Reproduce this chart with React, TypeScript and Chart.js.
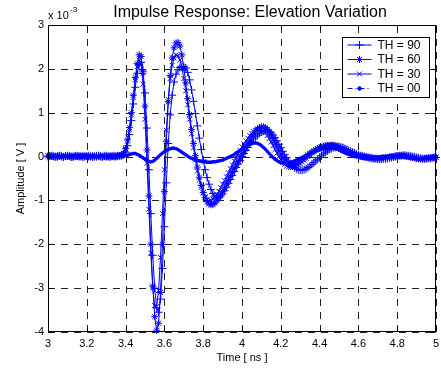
import React, { useEffect, useRef } from 'react';
import { Chart, registerables } from 'chart.js';

Chart.register(...registerables);

// ---- data (amplitude in units of 1e-3 V), sampled every 0.01 ns from 3.00 to 5.00 ns ----
const T_START = 3.0;
const T_STEP = 0.01;

const TH90 = [
  0.00, 0.01, 0.02, 0.01, -0.01, 0.00, 0.02, 0.01, -0.01, 0.01,
  0.02, 0.01, 0.00, -0.01, 0.01, 0.02, 0.01, 0.00, -0.02, 0.00,
  0.01, 0.02, 0.00, -0.01, 0.00, 0.01, 0.02, 0.00, -0.01, 0.01,
  0.02, 0.00, -0.01, 0.01, 0.02, 0.00, 0.01, 0.01, 0.02, 0.04,
  0.10, 0.25, 0.50, 0.82, 1.20, 1.58, 1.90, 2.10, 2.15, 1.95,
  1.45, 0.65, -0.30, -1.30, -2.25, -3.00, -3.45, -3.55, -3.25, -2.55,
  -1.60, -0.60, 0.30, 0.95, 1.40, 1.70, 1.88, 1.98, 2.03, 2.05,
  2.05, 2.02, 1.92, 1.75, 1.52, 1.26, 0.98, 0.70, 0.42, 0.16,
  -0.08, -0.30, -0.48, -0.63, -0.75, -0.84, -0.90, -0.93, -0.93, -0.90,
  -0.85, -0.78, -0.70, -0.61, -0.52, -0.43, -0.34, -0.25, -0.17, -0.09,
  0.00, 0.07, 0.14, 0.21, 0.28, 0.34, 0.40, 0.45, 0.49, 0.53,
  0.56, 0.58, 0.59, 0.59, 0.57, 0.54, 0.49, 0.43, 0.36, 0.28,
  0.20, 0.12, 0.04, -0.03, -0.10, -0.16, -0.21, -0.25, -0.28, -0.30,
  -0.31, -0.31, -0.30, -0.28, -0.25, -0.22, -0.18, -0.14, -0.10, -0.06,
  -0.02, 0.02, 0.06, 0.10, 0.13, 0.16, 0.18, 0.20, 0.21, 0.22,
  0.22, 0.21, 0.20, 0.18, 0.16, 0.14, 0.12, 0.10, 0.08, 0.06,
  0.04, 0.02, 0.01, 0.00, -0.01, -0.02, -0.03, -0.04, -0.05, -0.05,
  -0.06, -0.06, -0.06, -0.05, -0.05, -0.04, -0.03, -0.02, -0.01, 0.00,
  0.01, 0.02, 0.02, 0.03, 0.03, 0.02, 0.02, 0.01, 0.00, -0.01,
  -0.02, -0.03, -0.04, -0.05, -0.05, -0.05, -0.04, -0.04, -0.03, -0.02,
  -0.02,
];

const TH60 = [
  0.01, 0.02, 0.00, -0.01, 0.01, 0.02, 0.01, -0.01, 0.00, 0.02,
  0.01, 0.00, -0.02, 0.01, 0.02, 0.00, -0.01, 0.01, 0.02, 0.01,
  0.00, -0.01, 0.01, 0.02, 0.01, -0.01, 0.00, 0.02, 0.01, 0.00,
  -0.01, 0.01, 0.02, 0.00, -0.01, 0.01, 0.03, 0.02, 0.04, 0.08,
  0.18, 0.38, 0.66, 1.00, 1.40, 1.80, 2.12, 2.32, 2.28, 1.90,
  1.15, 0.15, -0.90, -2.00, -2.95, -3.65, -3.96, -3.80, -3.10, -2.00,
  -0.80, 0.35, 1.25, 1.85, 2.25, 2.48, 2.59, 2.60, 2.52, 2.32,
  2.02, 1.68, 1.32, 0.96, 0.62, 0.30, 0.02, -0.24, -0.47, -0.66,
  -0.82, -0.94, -1.03, -1.08, -1.10, -1.09, -1.06, -1.01, -0.95, -0.88,
  -0.80, -0.72, -0.63, -0.54, -0.45, -0.36, -0.27, -0.19, -0.11, -0.03,
  0.05, 0.13, 0.21, 0.29, 0.37, 0.45, 0.52, 0.58, 0.63, 0.66,
  0.68, 0.68, 0.66, 0.62, 0.56, 0.49, 0.41, 0.32, 0.23, 0.14,
  0.06, -0.01, -0.07, -0.12, -0.16, -0.18, -0.19, -0.19, -0.17, -0.14,
  -0.11, -0.07, -0.04, 0.00, 0.04, 0.07, 0.10, 0.13, 0.16, 0.18,
  0.20, 0.21, 0.23, 0.24, 0.25, 0.25, 0.25, 0.24, 0.23, 0.21,
  0.19, 0.17, 0.15, 0.13, 0.11, 0.09, 0.07, 0.06, 0.04, 0.03,
  0.02, 0.01, 0.00, -0.01, -0.02, -0.02, -0.03, -0.03, -0.04, -0.04,
  -0.04, -0.04, -0.03, -0.03, -0.02, -0.02, -0.01, -0.01, 0.00, 0.01,
  0.01, 0.02, 0.02, 0.02, 0.01, 0.01, 0.00, -0.01, -0.02, -0.03,
  -0.04, -0.05, -0.05, -0.05, -0.04, -0.04, -0.03, -0.03, -0.02, -0.02,
  -0.02,
];

const TH30 = [
  0.02, 0.00, -0.01, 0.01, 0.02, 0.01, 0.00, -0.01, 0.01, 0.02,
  0.00, -0.01, 0.01, 0.02, 0.00, -0.01, 0.01, 0.02, 0.01, 0.00,
  -0.01, 0.01, 0.02, 0.01, 0.00, -0.01, 0.01, 0.02, 0.00, -0.01,
  0.01, 0.02, 0.00, -0.01, 0.01, 0.02, 0.02, 0.01, 0.03, 0.07,
  0.16, 0.35, 0.62, 0.95, 1.35, 1.75, 2.05, 2.20, 2.10, 1.65,
  0.85, -0.15, -1.20, -2.20, -3.00, -3.40, -3.42, -3.05, -2.30, -1.30,
  -0.30, 0.60, 1.30, 1.78, 2.08, 2.25, 2.32, 2.30, 2.20, 2.02,
  1.78, 1.50, 1.18, 0.85, 0.52, 0.20, -0.08, -0.33, -0.54, -0.70,
  -0.83, -0.92, -0.98, -1.01, -1.00, -0.97, -0.92, -0.86, -0.79, -0.71,
  -0.63, -0.55, -0.46, -0.37, -0.28, -0.19, -0.10, -0.02, 0.06, 0.14,
  0.22, 0.29, 0.36, 0.42, 0.48, 0.53, 0.57, 0.60, 0.62, 0.62,
  0.61, 0.58, 0.54, 0.48, 0.41, 0.33, 0.25, 0.16, 0.08, 0.00,
  -0.07, -0.13, -0.18, -0.22, -0.24, -0.25, -0.25, -0.24, -0.22, -0.19,
  -0.16, -0.12, -0.08, -0.04, 0.00, 0.04, 0.08, 0.12, 0.15, 0.18,
  0.20, 0.22, 0.24, 0.26, 0.27, 0.28, 0.28, 0.28, 0.27, 0.26,
  0.24, 0.22, 0.20, 0.18, 0.15, 0.13, 0.11, 0.09, 0.07, 0.05,
  0.04, 0.03, 0.02, 0.01, 0.00, -0.01, -0.02, -0.02, -0.03, -0.03,
  -0.03, -0.03, -0.02, -0.02, -0.01, -0.01, 0.00, 0.00, 0.01, 0.01,
  0.02, 0.02, 0.02, 0.01, 0.01, 0.00, -0.01, -0.02, -0.03, -0.04,
  -0.04, -0.05, -0.05, -0.05, -0.04, -0.04, -0.03, -0.03, -0.02, -0.02,
  -0.01,
];

const TH00 = [
  0.01, -0.01, 0.00, 0.02, 0.01, -0.01, 0.00, 0.01, 0.02, 0.00,
  -0.01, 0.01, 0.02, 0.00, -0.01, 0.00, 0.02, 0.01, -0.01, 0.01,
  0.02, 0.00, -0.01, 0.01, 0.02, 0.01, -0.01, 0.00, 0.02, 0.01,
  0.00, -0.01, 0.01, 0.02, 0.00, -0.01, 0.01, 0.02, 0.01, 0.01,
  0.02, 0.03, 0.05, 0.06, 0.07, 0.07, 0.05, 0.03, 0.00, -0.03,
  -0.06, -0.09, -0.11, -0.12, -0.11, -0.08, -0.04, 0.00, 0.04, 0.08,
  0.11, 0.14, 0.16, 0.18, 0.19, 0.19, 0.18, 0.16, 0.13, 0.10,
  0.07, 0.04, 0.01, -0.02, -0.04, -0.06, -0.08, -0.09, -0.10, -0.11,
  -0.12, -0.12, -0.13, -0.13, -0.13, -0.12, -0.12, -0.11, -0.10, -0.09,
  -0.08, -0.06, -0.04, -0.02, 0.00, 0.02, 0.05, 0.08, 0.11, 0.14,
  0.17, 0.20, 0.23, 0.26, 0.28, 0.30, 0.31, 0.31, 0.30, 0.28,
  0.25, 0.21, 0.17, 0.12, 0.07, 0.02, -0.02, -0.06, -0.09, -0.12,
  -0.14, -0.15, -0.16, -0.16, -0.15, -0.14, -0.12, -0.10, -0.08, -0.06,
  -0.04, -0.02, 0.00, 0.02, 0.04, 0.06, 0.08, 0.10, 0.12, 0.14,
  0.15, 0.17, 0.18, 0.19, 0.20, 0.20, 0.20, 0.19, 0.18, 0.17,
  0.15, 0.13, 0.11, 0.09, 0.07, 0.05, 0.04, 0.02, 0.01, 0.00,
  -0.01, -0.02, -0.03, -0.03, -0.04, -0.04, -0.04, -0.04, -0.03, -0.03,
  -0.02, -0.02, -0.01, 0.00, 0.00, 0.01, 0.01, 0.02, 0.02, 0.02,
  0.02, 0.01, 0.01, 0.00, -0.01, -0.02, -0.03, -0.04, -0.04, -0.05,
  -0.05, -0.05, -0.05, -0.04, -0.04, -0.03, -0.03, -0.02, -0.02, -0.01,
  -0.01,
];

const SERIES_LABELS = ['TH = 90', 'TH = 60', 'TH = 30', 'TH = 00'];
const X_TICKS = [3, 3.2, 3.4, 3.6, 3.8, 4, 4.2, 4.4, 4.6, 4.8, 5];
const Y_TICKS = [-4, -3, -2, -1, 0, 1, 2, 3];
const TITLE = 'Impulse Response: Elevation Variation';
const X_LABEL = 'Time [ ns ]';
const Y_LABEL = 'Amplitude [ V ]';
const EXP_BASE = 'x 10';
const EXP_POWER = '-3';

const FONT = '"Liberation Sans", Arial, Helvetica, sans-serif';
const BLUE = '#0000ff';

type Marker = 'cross' | 'star' | 'crossRot' | 'circle';
const MARKERS: Marker[] = ['cross', 'star', 'crossRot', 'circle'];
const RADII = [4, 3.5, 3.5, 1.4];

function drawMarker(ctx: CanvasRenderingContext2D, m: Marker, x: number, y: number, r: number) {
  ctx.beginPath();
  if (m === 'cross' || m === 'star') {
    ctx.moveTo(x - r, y); ctx.lineTo(x + r, y);
    ctx.moveTo(x, y - r); ctx.lineTo(x, y + r);
  }
  if (m === 'crossRot' || m === 'star') {
    const d = r * Math.SQRT1_2;
    ctx.moveTo(x - d, y - d); ctx.lineTo(x + d, y + d);
    ctx.moveTo(x - d, y + d); ctx.lineTo(x + d, y - d);
  }
  if (m === 'circle') {
    ctx.arc(x, y, r, 0, Math.PI * 2);
    ctx.fill();
  }
  ctx.stroke();
}

const matlabPlugin = {
  id: 'matlabDecor',
  beforeDatasetsDraw(chart: any) {
    const { ctx, chartArea: a, scales } = chart;
    const xs = scales.x, ys = scales.y;
    ctx.save();
    ctx.strokeStyle = '#222';
    ctx.lineWidth = 1;
    ctx.setLineDash([7, 6]);
    X_TICKS.forEach((v) => {
      const px = Math.round(xs.getPixelForValue(v)) + 0.5;
      ctx.beginPath();
      ctx.moveTo(px, a.bottom);
      ctx.lineTo(px, a.top);
      ctx.stroke();
    });
    Y_TICKS.forEach((v) => {
      const py = Math.round(ys.getPixelForValue(v)) + 0.5;
      ctx.beginPath();
      ctx.moveTo(a.left, py);
      ctx.lineTo(a.right, py);
      ctx.stroke();
    });
    ctx.restore();
  },
  afterDatasetsDraw(chart: any) {
    const { ctx, chartArea: a, scales } = chart;
    const xs = scales.x, ys = scales.y;
    ctx.save();
    // axes box
    ctx.strokeStyle = '#000';
    ctx.lineWidth = 1;
    ctx.setLineDash([]);
    const L = Math.round(a.left) + 0.5, R = Math.round(a.right) - 0.5;
    const T = Math.round(a.top) + 0.5, B = Math.round(a.bottom) - 0.5;
    ctx.strokeRect(L, T, R - L, B - T);
    // inward ticks on all sides
    const tl = 4;
    ctx.beginPath();
    X_TICKS.forEach((v) => {
      const px = Math.round(xs.getPixelForValue(v)) + 0.5;
      ctx.moveTo(px, B); ctx.lineTo(px, B - tl);
      ctx.moveTo(px, T); ctx.lineTo(px, T + tl);
    });
    Y_TICKS.forEach((v) => {
      const py = Math.round(ys.getPixelForValue(v)) + 0.5;
      ctx.moveTo(L, py); ctx.lineTo(L + tl, py);
      ctx.moveTo(R, py); ctx.lineTo(R - tl, py);
    });
    ctx.stroke();

    // title
    ctx.fillStyle = '#000';
    ctx.textAlign = 'center';
    ctx.textBaseline = 'alphabetic';
    ctx.font = `16px ${FONT}`;
    ctx.fillText(TITLE, 250, 17);

    // exponent label
    ctx.textAlign = 'left';
    ctx.font = `11px ${FONT}`;
    ctx.fillText(EXP_BASE, 48, 19);
    ctx.font = `8px ${FONT}`;
    ctx.fillText(EXP_POWER, 70, 12);

    // x label
    ctx.textAlign = 'center';
    ctx.font = `11px ${FONT}`;
    ctx.textBaseline = 'middle';
    ctx.fillText(X_LABEL, (a.left + a.right) / 2, 358);

    // y label
    ctx.save();
    ctx.translate(21, (a.top + a.bottom) / 2);
    ctx.rotate(-Math.PI / 2);
    ctx.fillText(Y_LABEL, 0, 0);
    ctx.restore();

    // legend
    const lx = 342.5, ly = 37.5, lw = 87, lh = 60;
    ctx.fillStyle = '#fff';
    ctx.fillRect(lx, ly, lw, lh);
    ctx.strokeStyle = '#000';
    ctx.strokeRect(lx, ly, lw, lh);
    ctx.font = `12px ${FONT}`;
    ctx.textAlign = 'left';
    ctx.textBaseline = 'middle';
    chart.data.datasets.forEach((ds: any, i: number) => {
      const yy = ly + 7.5 + i * 14.5;
      ctx.strokeStyle = BLUE;
      ctx.fillStyle = BLUE;
      ctx.lineWidth = 1;
      ctx.setLineDash(ds.borderDash || []);
      ctx.beginPath();
      ctx.moveTo(lx + 5, yy);
      ctx.lineTo(lx + 29, yy);
      ctx.stroke();
      ctx.setLineDash([]);
      drawMarker(ctx, MARKERS[i], lx + 17, yy, RADII[i] + (i === 3 ? 0.4 : 0));
      ctx.fillStyle = '#000';
      ctx.fillText(ds.label, lx + 35, yy + 0.5);
    });
    ctx.restore();
  },
};

export default function App() {
  const ref = useRef<HTMLCanvasElement | null>(null);

  useEffect(() => {
    if (!ref.current) return;
    const times = TH90.map((_, i) => +(T_START + i * T_STEP).toFixed(2));
    const seriesValues = [TH90, TH60, TH30, TH00];
    const datasets = seriesValues.map((vals, i) => ({
      label: SERIES_LABELS[i],
      data: vals.map((v, j) => ({ x: times[j], y: v })),
      borderColor: BLUE,
      backgroundColor: BLUE,
      borderWidth: 1,
      borderDash: i === 3 ? [5, 3, 1, 3] : [],
      pointStyle: MARKERS[i],
      pointRadius: RADII[i],
      pointBorderWidth: 1,
      pointBorderColor: BLUE,
      pointBackgroundColor: BLUE,
      pointHoverRadius: RADII[i],
      tension: 0,
      clip: false,
      order: 3 - i,
    }));

    const chart = new Chart(ref.current, {
      type: 'line',
      data: { datasets },
      options: {
        animation: false,
        responsive: false,
        devicePixelRatio: 1,
        events: [],
        layout: { padding: { top: 25, right: 1, left: 0, bottom: 0 } },
        plugins: { legend: { display: false }, tooltip: { enabled: false }, title: { display: false } },
        scales: {
          x: {
            type: 'linear',
            min: 3,
            max: 5,
            afterBuildTicks: (s: any) => { s.ticks = X_TICKS.map((v) => ({ value: v })); },
            afterFit: (s: any) => { s.height = 38; s.paddingLeft = 0; s.paddingRight = 0; },
            grid: { display: false, drawTicks: false },
            border: { display: false },
            ticks: {
              autoSkip: false,
              maxRotation: 0,
              padding: 5,
              color: '#000',
              font: { family: FONT, size: 11 },
              callback: (v: any) => String(Math.round(Number(v) * 10) / 10),
            },
          },
          y: {
            type: 'linear',
            min: -4,
            max: 3,
            afterBuildTicks: (s: any) => { s.ticks = Y_TICKS.map((v) => ({ value: v })); },
            afterFit: (s: any) => { s.width = 48; s.paddingTop = 0; s.paddingBottom = 0; },
            grid: { display: false, drawTicks: false },
            border: { display: false },
            ticks: {
              autoSkip: false,
              padding: 4,
              color: '#000',
              font: { family: FONT, size: 11 },
              callback: (v: any) => String(v),
            },
          },
        },
      },
      plugins: [matlabPlugin],
    } as any);
    return () => chart.destroy();
  }, []);

  return (
    <div style={{ position: 'absolute', left: 0, top: 0, width: 441, height: 370, background: '#fff' }}>
      <canvas ref={ref} width={441} height={370} style={{ width: 441, height: 370, display: 'block' }} />
    </div>
  );
}
